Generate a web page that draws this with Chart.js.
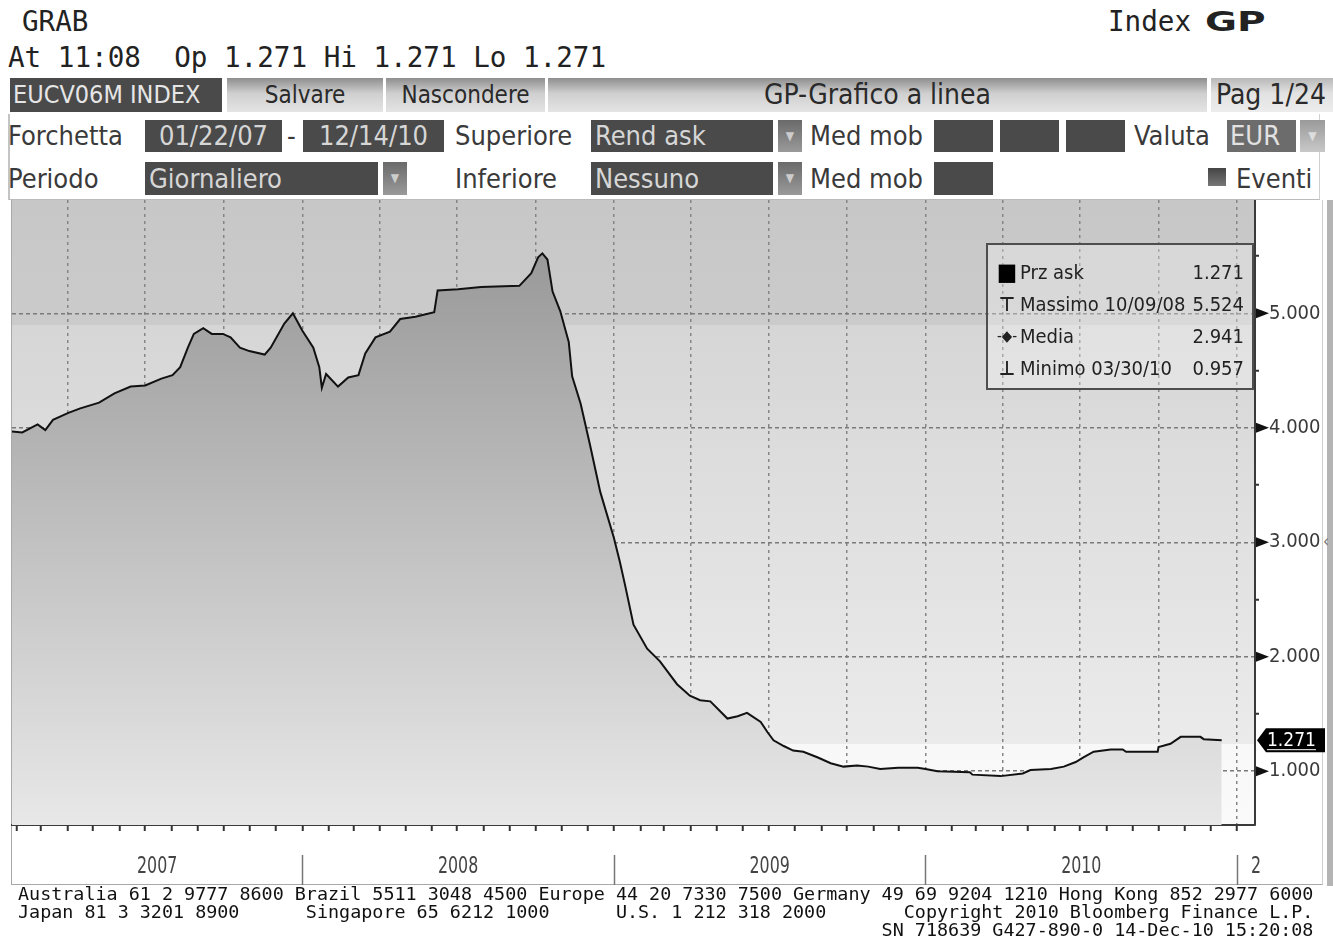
<!DOCTYPE html>
<html>
<head>
<meta charset="utf-8">
<script src="https://cdn.jsdelivr.net/npm/chart.js@4.4.0/dist/chart.umd.min.js"></script>
<style>
  body { margin: 0; width: 1333px; height: 939px; overflow: hidden; position: relative; background: #fff;
         font-family: "DejaVu Sans Condensed", "DejaVu Sans", sans-serif; font-stretch: condensed; color: #333; }
  .a { position: absolute; white-space: pre; }
  .mono { font-family: "DejaVu Sans Mono", monospace; font-stretch: normal; }
  .top { font-size: 27.6px; line-height: 27px; color: #222; }
  .bar { top: 78px; height: 34px; line-height: 34px; font-size: 24px; }
  .btn { background: linear-gradient(#8e8e8e, #cfcfcf 45%, #e4e4e4); color: #2a2a2a; text-align: center; }
  .lbl { font-size: 27px; color: #3a3a3a; }
  .box { background: #4a4a4a; color: #d6d6d6; font-size: 27px; }
  .dd { background: linear-gradient(#6a6a6a, #9a9a9a); color: #ccc; font-size: 12px; text-align: center; }
  .foot { font-size: 18.4px; line-height: 18px; color: #111; }
  #legend { left: 986px; top: 243px; width: 264px; height: 143px; border: 2px solid #4e4e4e;
            background: rgba(255,255,255,0.28); font-size: 20px; color: #222; }
  #legend .r { position: absolute; left: 0; width: 100%; height: 32px; line-height: 32px; }
  #legend .ic { position: absolute; left: 8px; width: 22px; text-align: center; }
  #legend .t { position: absolute; left: 32px; }
  #legend .v { position: absolute; right: 8px; }
</style>
</head>
<body>
<div class="a mono top" style="left:22px;top:8px">GRAB</div>
<div class="a mono top" style="left:8px;top:44px">At 11:08  Op 1.271 Hi 1.271 Lo 1.271</div>
<div class="a mono top" style="left:1108px;top:8px">Index</div>
<div class="a top" style="left:1205px;top:9px;font-family:'DejaVu Sans';font-stretch:normal;font-weight:bold;font-size:26px;transform:scaleX(1.5);transform-origin:left">GP</div>

<div class="a bar" style="left:10px;width:209px;padding-left:3px;background:#4a4a4a;color:#e6e6e6;font-size:25px">EUCV06M INDEX</div>
<div class="a bar btn" style="left:227px;width:156px">Salvare</div>
<div class="a bar btn" style="left:386px;width:159px">Nascondere</div>
<div class="a bar btn" style="left:548px;width:659px;font-size:28px">GP-Grafico a linea</div>
<div class="a bar" style="left:1211px;width:117px;padding-left:5px;background:linear-gradient(#b8b8b8,#e2e2e2 45%,#ececec);color:#2a2a2a;font-size:28px">Pag 1/24</div>

<div class="a" style="left:8px;top:114px;width:1309px;height:85px;border-left:2px solid #c4c4c4;border-right:1px solid #d0d0d0;border-bottom:1px solid #bbb"></div>

<div class="a lbl" style="left:8px;top:120px;line-height:32px">Forchetta</div>
<div class="a box" style="left:145px;top:120px;width:137px;height:32px;line-height:32px;text-align:center">01/22/07</div>
<div class="a lbl" style="left:287px;top:120px;line-height:32px">-</div>
<div class="a box" style="left:303px;top:120px;width:141px;height:32px;line-height:32px;text-align:center">12/14/10</div>
<div class="a lbl" style="left:455px;top:120px;line-height:32px">Superiore</div>
<div class="a box" style="left:591px;top:120px;width:178px;height:32px;line-height:32px;padding-left:4px">Rend ask</div>
<div class="a dd" style="left:778px;top:120px;width:24px;height:32px;line-height:32px">▼</div>
<div class="a lbl" style="left:810px;top:120px;line-height:32px">Med mob</div>
<div class="a box" style="left:934px;top:120px;width:59px;height:32px"></div>
<div class="a box" style="left:1000px;top:120px;width:59px;height:32px"></div>
<div class="a box" style="left:1066px;top:120px;width:59px;height:32px"></div>
<div class="a lbl" style="left:1134px;top:120px;line-height:32px">Valuta</div>
<div class="a box" style="left:1227px;top:120px;width:66px;height:32px;line-height:32px;padding-left:3px;background:#6c6c6c;color:#e2e2e2">EUR</div>
<div class="a dd" style="left:1300px;top:120px;width:25px;height:32px;line-height:32px;background:linear-gradient(#9a9a9a,#c8c8c8);color:#ddd">▼</div>

<div class="a lbl" style="left:8px;top:162px;line-height:33px">Periodo</div>
<div class="a box" style="left:145px;top:162px;width:229px;height:33px;line-height:33px;padding-left:4px">Giornaliero</div>
<div class="a dd" style="left:383px;top:162px;width:24px;height:33px;line-height:33px">▼</div>
<div class="a lbl" style="left:455px;top:162px;line-height:33px">Inferiore</div>
<div class="a box" style="left:591px;top:162px;width:178px;height:33px;line-height:33px;padding-left:4px">Nessuno</div>
<div class="a dd" style="left:778px;top:162px;width:24px;height:33px;line-height:33px">▼</div>
<div class="a lbl" style="left:810px;top:162px;line-height:33px">Med mob</div>
<div class="a box" style="left:934px;top:162px;width:59px;height:33px"></div>
<div class="a" style="left:1208px;top:168px;width:18px;height:18px;background:linear-gradient(#444,#777)"></div>
<div class="a lbl" style="left:1236px;top:162px;line-height:33px">Eventi</div>

<div class="a" style="left:11px;top:200px;width:1310px;height:684px;border-left:1px solid #a8a8a8;border-bottom:1px solid #a8a8a8;border-right:1px solid #cfcfcf"></div>
<div class="a" style="left:1327px;top:200px;width:6px;height:686px;background:#b4b4b4"></div>
<div class="a" style="left:1323px;top:531px;font-size:17px;color:#777">‹</div>

<div class="a" style="left:0;top:200px;width:1333px;height:685px"><canvas id="grafica"></canvas></div>

<div id="legend" class="a">
  <div class="r" style="top:11px"><span class="ic" style="font-size:24px;color:#000">■</span><span class="t">Prz ask</span><span class="v" id="lv0"></span></div>
  <div class="r" style="top:43px"><span class="ic" style="font-weight:bold">⊤</span><span class="t">Massimo 10/09/08</span><span class="v" id="lv1"></span></div>
  <div class="r" style="top:75px"><span class="ic" style="font-size:15px">-◆-</span><span class="t">Media</span><span class="v" id="lv2"></span></div>
  <div class="r" style="top:107px"><span class="ic" style="font-weight:bold">⊥</span><span class="t">Minimo 03/30/10</span><span class="v" id="lv3"></span></div>
</div>

<div class="a mono foot" style="left:18px;top:885px">Australia 61 2 9777 8600 Brazil 5511 3048 4500 Europe 44 20 7330 7500 Germany 49 69 9204 1210 Hong Kong 852 2977 6000</div>
<div class="a mono foot" style="left:18px;top:903px">Japan 81 3 3201 8900      Singapore 65 6212 1000      U.S. 1 212 318 2000       Copyright 2010 Bloomberg Finance L.P.</div>
<div class="a mono foot" style="left:18px;top:921px">                                                                              SN 718639 G427-890-0 14-Dec-10 15:20:08</div>

<script>
const fechas = [
  '2007-01-22','2007-02-07','2007-02-25','2007-03-06','2007-03-15','2007-04-02','2007-04-16','2007-05-08',
  '2007-05-26','2007-06-14','2007-07-01','2007-07-20','2007-08-02','2007-08-11','2007-08-20','2007-08-27',
  '2007-09-07','2007-09-17','2007-09-30','2007-10-09','2007-10-20','2007-10-31','2007-11-18','2007-11-25',
  '2007-12-11','2007-12-21','2008-01-01','2008-01-14','2008-01-21','2008-01-24','2008-01-29','2008-02-12',
  '2008-02-24','2008-03-07','2008-03-15','2008-03-27','2008-04-13','2008-04-25','2008-05-13','2008-06-04',
  '2008-06-08','2008-07-02','2008-07-29','2008-09-12','2008-09-26','2008-10-04','2008-10-09','2008-10-15',
  '2008-10-21','2008-10-30','2008-11-09','2008-11-13','2008-11-23','2008-12-04','2008-12-16','2009-01-01',
  '2009-01-08','2009-01-14','2009-01-24','2009-02-09','2009-02-24','2009-03-16','2009-03-31','2009-04-12',
  '2009-04-24','2009-05-14','2009-05-26','2009-06-06','2009-06-22','2009-06-30','2009-07-07','2009-07-19',
  '2009-07-30','2009-08-11','2009-08-28','2009-09-12','2009-09-27','2009-10-13','2009-10-26','2009-11-09',
  '2009-11-30','2009-12-23','2010-01-01','2010-01-15','2010-02-22','2010-02-25','2010-03-30','2010-04-25',
  '2010-05-04','2010-05-28','2010-06-12','2010-06-26','2010-07-05','2010-07-17','2010-08-06','2010-08-20',
  '2010-08-24','2010-09-30','2010-10-01','2010-10-15','2010-10-27','2010-11-19','2010-11-23','2010-12-14'
];
const przAsk = [
  3.97, 3.96, 4.03, 3.98, 4.07, 4.13, 4.17, 4.22,
  4.30, 4.36, 4.37, 4.43, 4.46, 4.53, 4.70, 4.82,
  4.87, 4.82, 4.82, 4.79, 4.70, 4.67, 4.64, 4.70,
  4.91, 5.00, 4.85, 4.70, 4.53, 4.35, 4.47, 4.36,
  4.44, 4.46, 4.65, 4.79, 4.84, 4.95, 4.97, 5.01,
  5.20, 5.21, 5.23, 5.24, 5.35, 5.49, 5.524, 5.47,
  5.19, 5.02, 4.75, 4.45, 4.21, 3.85, 3.44, 3.04,
  2.83, 2.63, 2.28, 2.07, 1.96, 1.76, 1.66, 1.62,
  1.61, 1.46, 1.48, 1.51, 1.43, 1.34, 1.27, 1.22,
  1.18, 1.17, 1.12, 1.07, 1.04, 1.05, 1.04, 1.02,
  1.03, 1.03, 1.02, 1.00, 0.99, 0.97, 0.957, 0.98,
  1.01, 1.02, 1.04, 1.08, 1.12, 1.17, 1.19, 1.19,
  1.17, 1.17, 1.21, 1.24, 1.30, 1.30, 1.28, 1.271
];
const rangoFechas = ['2007-01-26', '2011-01-22'];
const rangoY = [0.53, 5.99];
const etiquetasAnio = ['2007', '2008', '2009', '2010', '2011'];
const leyendaValores = ['1.271', '5.524', '2.941', '0.957'];

leyendaValores.forEach((v, i) => { document.getElementById('lv' + i).textContent = v; });

const FONT = "'DejaVu Sans Condensed', 'DejaVu Sans', sans-serif";

function aAnio(s) {
  const [y, m, d] = s.split('-').map(Number);
  const ini = Date.UTC(y, 0, 1), fin = Date.UTC(y + 1, 0, 1);
  return y + (Date.UTC(y, m - 1, d) - ini) / (fin - ini);
}

const xMin = aAnio(rangoFechas[0]);
const xMax = aAnio(rangoFechas[1]);

// inicio de cada mes dentro del rango (marcas del eje x), los trimestres llevan rejilla
const marcasMes = [];
const trimestres = new Set();
for (let y = 2007; y <= 2011; y++) {
  for (let m = 1; m <= 12; m++) {
    const v = aAnio(y + '-' + String(m).padStart(2, '0') + '-01');
    if (v > xMin && v < xMax) {
      marcasMes.push(v);
      if ((m - 1) % 3 === 0) trimestres.add(v);
    }
  }
}

const fondo = {
  id: 'fondo',
  beforeDraw(chart) {
    const { ctx, chartArea: a } = chart;
    const g = ctx.createLinearGradient(0, a.top, 0, a.bottom);
    g.addColorStop(0, '#c7c7c7');
    g.addColorStop(0.2, '#cbcbcb');
    g.addColorStop(0.2, '#d6d6d6');
    g.addColorStop(0.87, '#ebebeb');
    g.addColorStop(0.87, '#f8f8f8');
    g.addColorStop(1, '#fafafa');
    ctx.save();
    ctx.fillStyle = g;
    ctx.fillRect(a.left, a.top, a.right - a.left, a.bottom - a.top);
    ctx.restore();
  }
};

const extras = {
  id: 'extras',
  afterDraw(chart) {
    const { ctx, chartArea: a } = chart;
    const ys = chart.scales.y, xs = chart.scales.x;
    ctx.save();
    // flechas de los valores del eje
    ctx.fillStyle = '#111';
    ys.ticks.forEach(t => {
      if (!Number.isInteger(t.value)) return;
      const py = ys.getPixelForValue(t.value);
      ctx.beginPath();
      ctx.moveTo(a.right + 1, py - 5);
      ctx.lineTo(a.right + 14, py);
      ctx.lineTo(a.right + 1, py + 5);
      ctx.closePath();
      ctx.fill();
    });
    // etiqueta del ultimo valor
    const ultimo = przAsk[przAsk.length - 1];
    const py = ys.getPixelForValue(ultimo);
    ctx.fillStyle = '#000';
    ctx.beginPath();
    ctx.moveTo(a.right + 2, py);
    ctx.lineTo(a.right + 11, py - 12);
    ctx.lineTo(a.right + 70, py - 12);
    ctx.lineTo(a.right + 70, py + 12);
    ctx.lineTo(a.right + 11, py + 12);
    ctx.closePath();
    ctx.fill();
    ctx.fillStyle = '#fff';
    ctx.font = '19px ' + FONT;
    ctx.textBaseline = 'middle';
    ctx.textAlign = 'left';
    ctx.fillText(ultimo.toFixed(3), a.right + 12, py + 1);
    const w = ctx.measureText(ultimo.toFixed(3)).width;
    ctx.fillRect(a.right + 12, py + 9, w, 1);
    // separadores y etiquetas de los anios
    ctx.strokeStyle = '#777';
    ctx.lineWidth = 1.5;
    ctx.fillStyle = '#444';
    ctx.font = '22px ' + FONT;
    etiquetasAnio.forEach(lab => {
      const y0 = Number(lab);
      const x0 = xs.getPixelForValue(y0), x1 = xs.getPixelForValue(y0 + 1);
      if (x0 > a.left && x0 < a.right) {
        ctx.beginPath();
        ctx.moveTo(Math.round(x0) + 0.5, a.bottom + 30);
        ctx.lineTo(Math.round(x0) + 0.5, a.bottom + 60);
        ctx.stroke();
      }
      const l = Math.max(x0, a.left), r = Math.min(x1, a.right);
      ctx.save();
      ctx.beginPath();
      ctx.rect(l, a.bottom, 1262 - l, 60);
      ctx.clip();
      if (r - l > 60) {
        ctx.translate((l + r) / 2, a.bottom + 42);
        ctx.textAlign = 'center';
      } else {
        ctx.translate(l + 14, a.bottom + 42);
        ctx.textAlign = 'left';
      }
      ctx.scale(0.8, 1.05);
      ctx.fillText(lab, 0, 0);
      ctx.restore();
    });
    ctx.restore();
  }
};

const ctx = document.getElementById('grafica').getContext('2d');
const chart = new Chart(ctx, {
  type: 'line',
  data: {
    datasets: [{
      label: 'Prz ask',
      data: fechas.map((f, i) => ({ x: aAnio(f), y: przAsk[i] })),
      borderColor: '#111',
      borderWidth: 2,
      pointRadius: 0,
      tension: 0,
      fill: 'start',
      backgroundColor: c => {
        const a = c.chart.chartArea;
        if (!a) return '#aaa';
        const g = c.chart.ctx.createLinearGradient(0, a.top + 50, 0, a.bottom);
        g.addColorStop(0, '#999999');
        g.addColorStop(1, '#e8e8e8');
        return g;
      }
    }]
  },
  options: {
    responsive: true,
    maintainAspectRatio: false,
    animation: false,
    layout: { padding: { left: 12, top: 0, right: 0, bottom: 0 } },
    plugins: { legend: { display: false }, tooltip: { enabled: false } },
    scales: {
      x: {
        type: 'linear',
        min: xMin,
        max: xMax,
        z: 1,
        afterBuildTicks: s => { s.ticks = marcasMes.map(v => ({ value: v })); },
        afterFit: s => { s.height = 60; s.paddingLeft = 0; s.paddingRight = 0; },
        ticks: { display: false },
        grid: {
          color: c => (c.tick && trimestres.has(c.tick.value)) ? '#858585' : 'rgba(0,0,0,0)',
          lineWidth: 1.5,
          tickColor: '#333',
          tickWidth: 2,
          tickLength: 6
        },
        border: { color: '#3a3a3a', width: 2, dash: [3, 4] }
      },
      y: {
        position: 'right',
        min: rangoY[0],
        max: rangoY[1],
        z: 1,
        afterFit: s => { s.width = 78; s.paddingTop = 0; s.paddingBottom = 0; },
        ticks: {
          stepSize: 0.5,
          includeBounds: false,
          autoSkip: false,
          padding: 10,
          color: '#3a3a3a',
          font: { family: FONT, size: 20 },
          callback: v => Number.isInteger(v) ? v.toFixed(3) : ''
        },
        grid: {
          color: c => (c.tick && Number.isInteger(c.tick.value)) ? '#7a7a7a' : 'rgba(0,0,0,0)',
          lineWidth: 1.5,
          tickColor: '#333',
          tickWidth: 2,
          tickLength: 4
        },
        border: { color: '#3a3a3a', width: 2, dash: [4, 3] }
      }
    }
  },
  plugins: [fondo, extras]
});
</script>
</body>
</html>
